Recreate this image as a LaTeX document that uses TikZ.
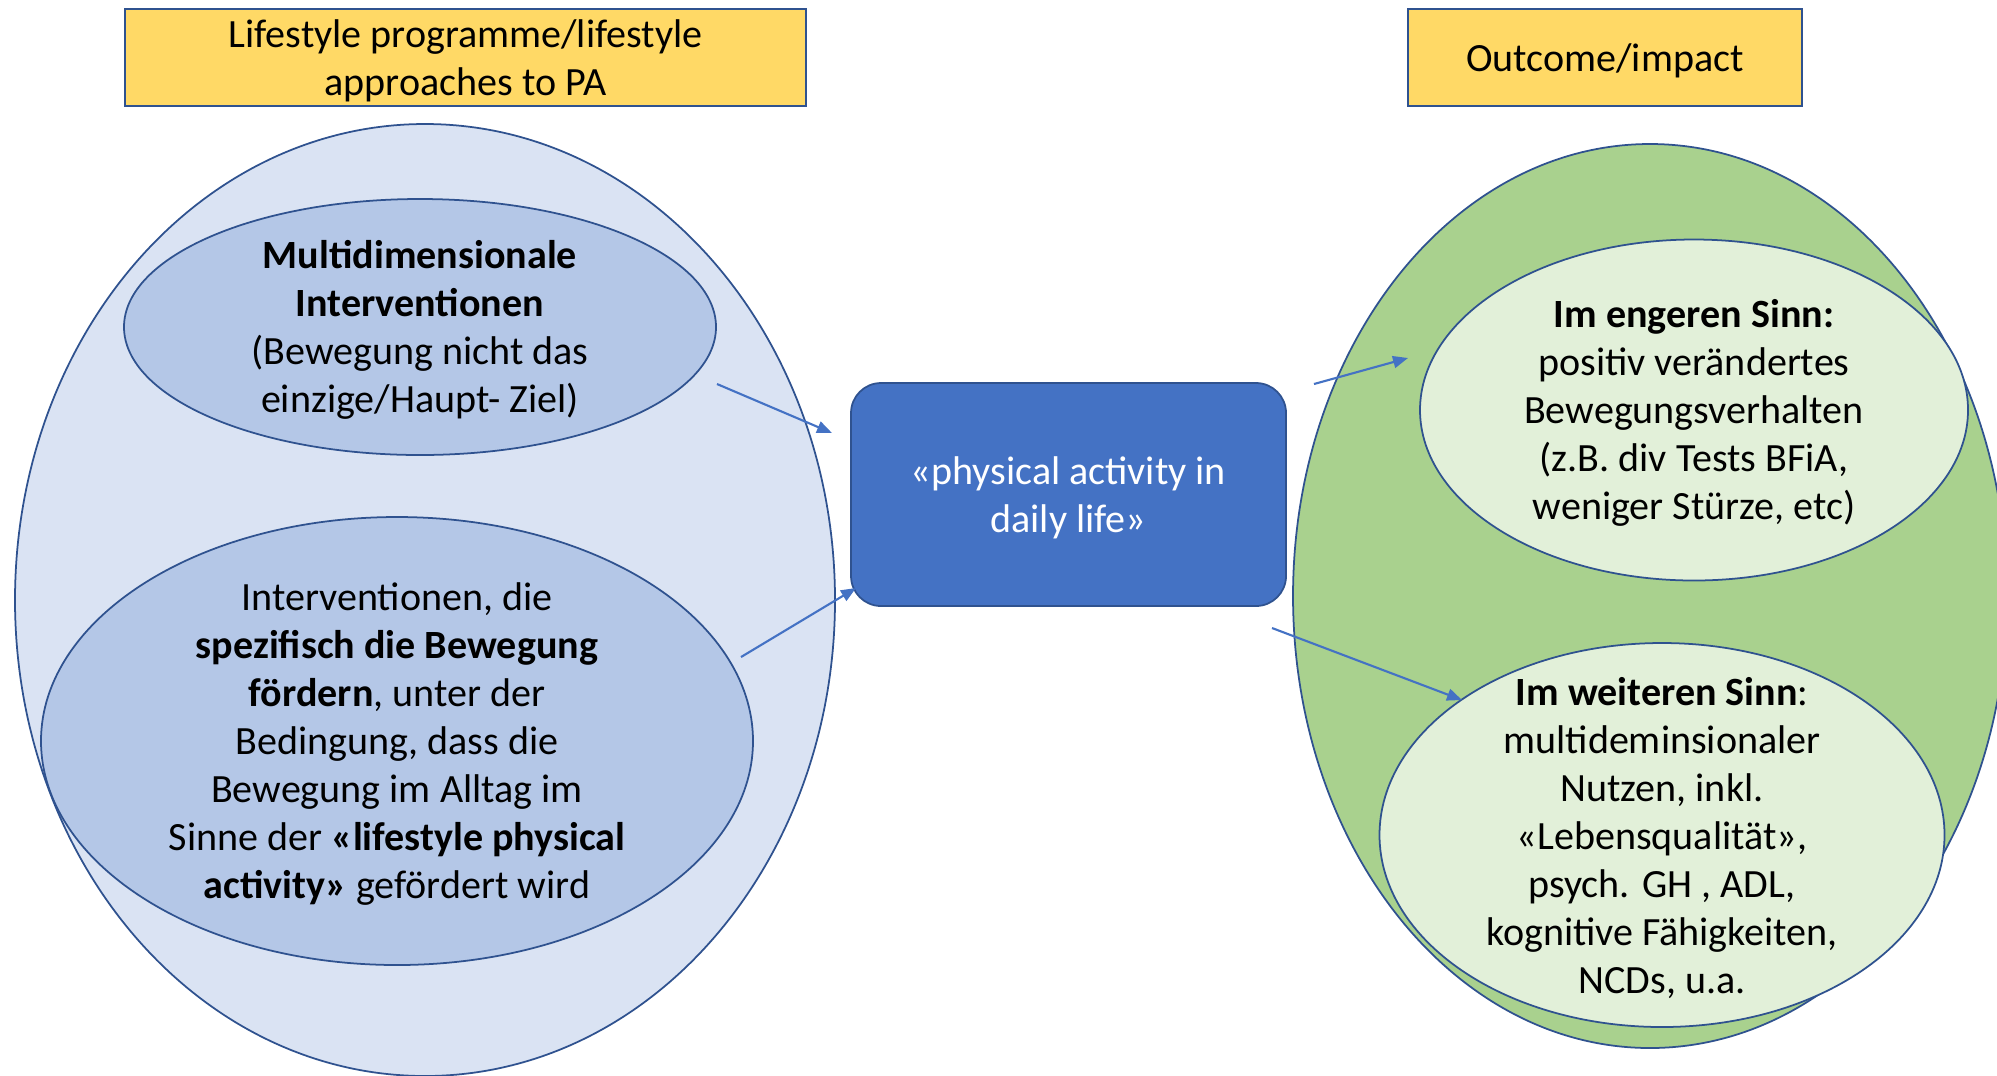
\documentclass[tikz,border=0pt]{standalone}
\usepackage{fontspec}
\setmainfont{Carlito}
\usetikzlibrary{arrows.meta,shapes.geometric}

\definecolor{headgold}{HTML}{FFD966}
\definecolor{edgeblue}{HTML}{2F528F}
\definecolor{linkblue}{HTML}{4472C4}
\definecolor{paleblue}{HTML}{DAE3F3}
\definecolor{midblue}{HTML}{B4C7E7}
\definecolor{leafgreen}{HTML}{A9D18E}
\definecolor{palegreen}{HTML}{E2F0D9}

\begin{document}
\begin{tikzpicture}[x=0.1mm, y=-0.1mm,
    oval/.style={ellipse, draw=edgeblue, line width=0.5pt, inner sep=0pt},
    header/.style={rectangle, draw=edgeblue, fill=headgold, line width=0.5pt, inner sep=0pt},
    txt/.style={align=center, inner sep=0pt, yshift=-0.3mm, font=\fontsize{11.4}{13.7}\selectfont},
    link/.style={draw=linkblue, line width=0.6pt, -{Triangle[length=1.5mm, width=1.2mm]}}]
  \useasboundingbox (0,0) rectangle (1997,1075);

  % left side: approaches
  \node[oval, fill=paleblue, minimum width=82mm, minimum height=95.2mm] (approach) at (425,600) {};
  \node[oval, fill=midblue, minimum width=59.2mm, minimum height=25.6mm] (multi) at (420,327) {};
  \node[oval, fill=midblue, minimum width=71.2mm, minimum height=44.8mm] (specific) at (397,741) {};
  \node[txt] (multitext) at (multi.center) {\textbf{Multidimensionale}\\\textbf{Interventionen}\\(Bewegung nicht das\\einzige/Haupt- Ziel)};
  \node[txt] (specifictext) at (specific.center) {Interventionen, die\\\textbf{spezifisch die Bewegung}\\\textbf{fördern}, unter der\\Bedingung, dass die\\Bewegung im Alltag im\\Sinne der \textbf{«lifestyle physical}\\\textbf{activity»} gefördert wird};

  % middle
  \node[rectangle, rounded corners=3mm, draw=edgeblue, fill=linkblue, line width=0.5pt,
        minimum width=43.5mm, minimum height=22.3mm, inner sep=0pt] (daily) at (1068.5,494.5) {};
  \node[txt, text=white] (dailytext) at (daily.center) {«physical activity in\\daily life»};

  % right side: outcome
  \node[oval, fill=leafgreen, minimum width=71.4mm, minimum height=90.4mm] (outcome) at (1650,596) {};
  \node[oval, fill=palegreen, minimum width=54.8mm, minimum height=34.1mm] (narrow) at (1694,410) {};
  \node[oval, fill=palegreen, minimum width=56.5mm, minimum height=38.4mm] (wide) at (1662,835) {};
  \node[txt] (narrowtext) at (narrow.center) {\textbf{Im engeren Sinn:}\\positiv verändertes\\Bewegungsverhalten\\(z.B. div Tests BFiA,\\weniger Stürze, etc)};
  \node[txt] (widetext) at (wide.center) {\textbf{Im weiteren Sinn}:\\multideminsionaler\\Nutzen, inkl.\\«Lebensqualität»,\\psych. GH , ADL,\\kognitive Fähigkeiten,\\NCDs, u.a.};

  % headers
  \node[header, minimum width=68.1mm, minimum height=9.7mm] (headleft) at (465.5,57.5) {};
  \node[txt] (headlefttext) at (headleft.center) {Lifestyle programme/lifestyle\\approaches to PA};
  \node[header, minimum width=39.4mm, minimum height=9.7mm] (headright) at (1605,57.5) {};
  \node[txt] (headrighttext) at (headright.center) {Outcome/impact};

  % arrows
  \coordinate (m1) at (717,384);  \coordinate (d1) at (832,433);
  \coordinate (s1) at (741,657);  \coordinate (d2) at (856,588);
  \coordinate (d3) at (1314,384); \coordinate (n1) at (1408,358);
  \coordinate (d4) at (1272,628); \coordinate (w1) at (1462,700);
  \draw[link] (m1) -- (d1);
  \draw[link] (s1) -- (d2);
  \draw[link] (d3) -- (n1);
  \draw[link] (d4) -- (w1);
\end{tikzpicture}
\end{document}
